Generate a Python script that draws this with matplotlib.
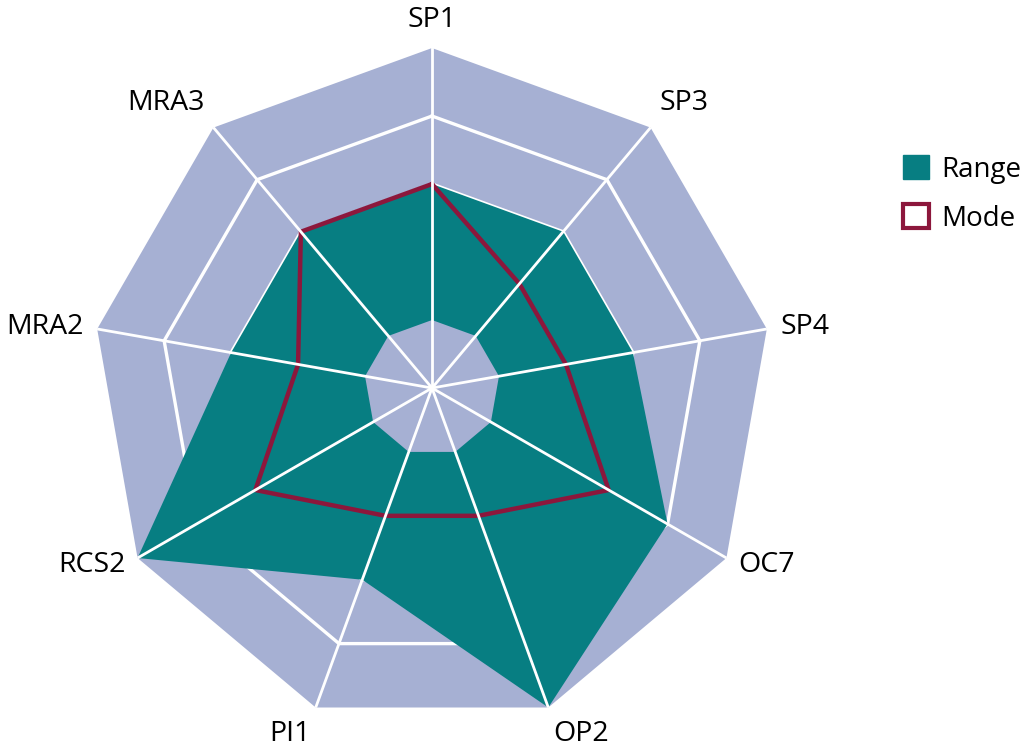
import numpy as np
import matplotlib
matplotlib.use("Agg")
import matplotlib.pyplot as plt
from matplotlib.patches import Patch

# axis labels, clockwise from the top
labels = ['SP1', 'SP3', 'SP4', 'OC7', 'OP2', 'PI1', 'RCS2', 'MRA2', 'MRA3']
range_min = [1, 1, 1, 1, 1, 1, 1, 1, 1]
range_max = [3, 3, 3, 4, 5, 3, 5, 3, 3]
mode = [3, 2, 2, 3, 2, 2, 3, 2, 3]
levels = [1, 2, 3, 4, 5]

TEAL = '#077e82'
LAVENDER = '#a6b0d3'
CRIMSON = '#8c173c'

plt.rcParams['font.family'] = ['Open Sans', 'DejaVu Sans']

n = len(labels)
angles = np.linspace(0, 2 * np.pi, n, endpoint=False)
closed = np.append(angles, angles[0])


def close(vals):
    return np.append(vals, vals[0])


fig = plt.figure(figsize=(10.27, 7.49), dpi=100)
ax = fig.add_axes([0.0896, 0.028, 0.6621, 0.9079], projection='polar')
ax.set_theta_offset(np.pi / 2)
ax.set_theta_direction(-1)
ax.set_ylim(0, levels[-1])
ax.axis('off')

# background polygon and ring gridlines
ax.fill(closed, close([levels[-1]] * n), color=LAVENDER, lw=0, zorder=1)
for lv in levels[:-1]:
    ax.plot(closed, close([lv] * n), color='white', lw=2.4, zorder=2)

# range band: outer fill, then cut out the inner part
ax.fill(closed, close(range_max), color=TEAL, lw=0, zorder=3)
ax.fill(closed, close(range_min), color=LAVENDER, lw=0, zorder=3)

# mode line
ax.plot(closed, close(mode), color=CRIMSON, lw=3.2, zorder=4,
        solid_joinstyle='miter')

# spokes on top
for a in angles:
    ax.plot([a, a], [0, levels[-1]], color='white', lw=2.0, zorder=5)

# axis labels
for a, lab in zip(angles, labels):
    x = np.sin(a)
    y = np.cos(a)
    ha = 'left' if x > 0.1 else ('right' if x < -0.1 else 'center')
    va = 'bottom' if y > 0.6 else ('top' if y < -0.6 else 'center')
    ax.text(a, 5.2, lab, ha=ha, va=va, fontsize=20.5, color='black')

handles = [Patch(facecolor=TEAL, edgecolor=TEAL, label='Range'),
           Patch(facecolor='white', edgecolor=CRIMSON, lw=3, label='Mode')]
fig.legend(handles=handles, loc='upper left', bbox_to_anchor=(0.879, 0.793),
           frameon=False, fontsize=20, handlelength=0.95, handleheight=0.95,
           handletextpad=0.45, labelspacing=0.75, borderpad=0, borderaxespad=0)

fig.savefig('out.png', dpi=100)
